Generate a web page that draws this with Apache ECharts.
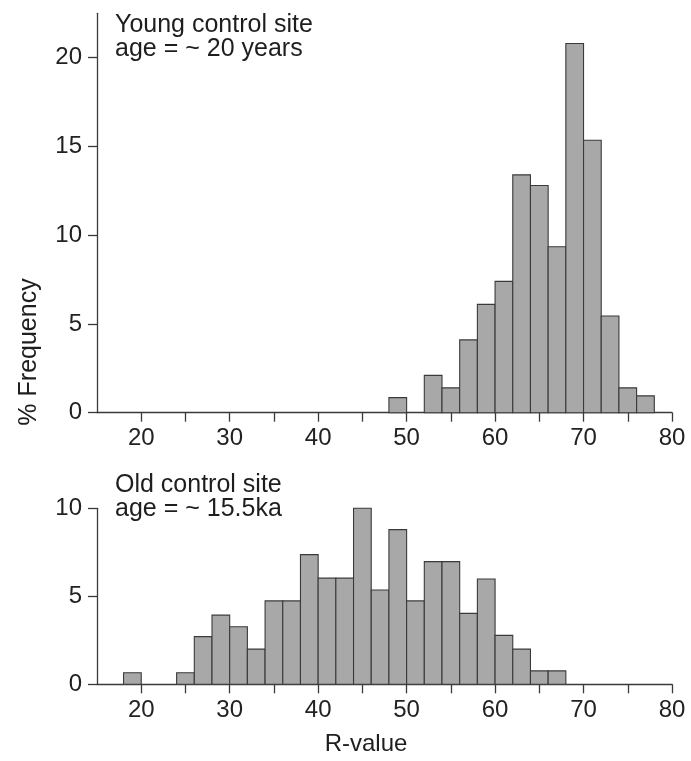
<!DOCTYPE html>
<html>
<head>
<meta charset="utf-8">
<script src="https://cdn.jsdelivr.net/npm/echarts@6/dist/echarts.min.js"></script>
<style>
html,body{margin:0;padding:0;background:#fff;}
#chart{width:691px;height:761px;}
</style>
</head>
<body>
<div id="chart"></div>
<script>
// ---- Data ----
var binWidth = 2;
// Young control site: bin lower edges (R-value) and % frequency
var youngBinStart = [48, 52, 54, 56, 58, 60, 62, 64, 66, 68, 70, 72, 74, 76];
var youngFreq     = [0.85, 2.1, 1.4, 4.1, 6.1, 7.4, 13.4, 12.8, 9.35, 20.8, 15.35, 5.45, 1.4, 0.95];
// Old control site
var oldBinStart = [18, 24, 26, 28, 30, 32, 34, 36, 38, 40, 42, 44, 46, 48, 50, 52, 54, 56, 58, 60, 62, 64, 66];
var oldFreq     = [0.66, 0.66, 2.71, 3.93, 3.27, 2.0, 4.74, 4.74, 7.37, 6.03, 6.03, 10.0, 5.36, 8.79, 4.74, 6.97, 6.97, 4.03, 5.98, 2.78, 2.0, 0.76, 0.76];

var xTickValues  = [20, 25, 30, 35, 40, 45, 50, 55, 60, 65, 70, 75, 80];
var xLabelValues = [20, 30, 40, 50, 60, 70, 80];
var youngYLabels = [0, 5, 10, 15, 20];
var oldYLabels   = [0, 5, 10];

var xTitle = 'R-value';
var yTitle = '% Frequency';
var youngNote = ['Young control site', 'age = ~ 20 years'];
var oldNote   = ['Old control site', 'age = ~ 15.5ka'];

// ---- Build ----
function toRows(starts, vals){
  return starts.map(function(s, i){ return [s, s + binWidth, vals[i]]; });
}
var FONT = '"Liberation Sans", Arial, Helvetica, sans-serif';
var AX = '#3a3a3a';

function xAxisCfg(idx){
  return {
    gridIndex: idx, type: 'value', min: 15, max: 80,
    axisLine: {show: true, lineStyle: {color: AX, width: 1.3}},
    axisTick: {show: true, length: 9, lineStyle: {color: AX, width: 1.3}, customValues: xTickValues},
    axisLabel: {show: true, margin: 14, fontSize: 24, fontFamily: FONT, color: '#222', customValues: xLabelValues},
    splitLine: {show: false}
  };
}
function yAxisCfg(idx, max, labels){
  return {
    gridIndex: idx, type: 'value', min: 0, max: max,
    axisLine: {show: true, lineStyle: {color: AX, width: 1.3}},
    axisTick: {show: true, length: 9, lineStyle: {color: AX, width: 1.3}, customValues: labels},
    axisLabel: {show: true, margin: 15, fontSize: 24, fontFamily: FONT, color: '#222', customValues: labels},
    splitLine: {show: false}
  };
}
function renderBar(params, api){
  var p0 = api.coord([api.value(0), 0]);
  var p1 = api.coord([api.value(1), api.value(2)]);
  return {
    type: 'rect',
    shape: {x: p0[0], y: p1[1], width: p1[0] - p0[0], height: p0[1] - p1[1]},
    style: {fill: '#a8a8a8', stroke: '#3a3a3a', lineWidth: 1.1}
  };
}
function txt(t, x, y, size){
  return {type: 'text', x: x, y: y, style: {text: t, font: size + 'px ' + FONT, fill: '#1e1e1e', verticalAlign: 'middle', align: 'left'}};
}

var chart = echarts.init(document.getElementById('chart'), null, {renderer: 'canvas'});
chart.setOption({
  animation: false,
  backgroundColor: '#fff',
  grid: [
    {left: 97, right: 19, top: 13.3, height: 399.4},
    {left: 97, right: 19, top: 508.3, height: 176}
  ],
  xAxis: [xAxisCfg(0), xAxisCfg(1)],
  yAxis: [yAxisCfg(0, 22.5, youngYLabels), yAxisCfg(1, 10, oldYLabels)],
  series: [
    {type: 'custom', xAxisIndex: 0, yAxisIndex: 0, data: toRows(youngBinStart, youngFreq), encode: {x: [0, 1], y: 2}, renderItem: renderBar},
    {type: 'custom', xAxisIndex: 1, yAxisIndex: 1, data: toRows(oldBinStart, oldFreq), encode: {x: [0, 1], y: 2}, renderItem: renderBar}
  ],
  graphic: [
    txt(youngNote[0], 115, 25, 25),
    txt(youngNote[1], 115, 49, 25),
    txt(oldNote[0], 115, 485, 25),
    txt(oldNote[1], 115, 509, 25),
    {type: 'text', x: 29, y: 352, rotation: Math.PI / 2,
     style: {text: yTitle, font: '25px ' + FONT, fill: '#1e1e1e', align: 'center', verticalAlign: 'middle'}},
    {type: 'text', x: 366, y: 744,
     style: {text: xTitle, font: '24px ' + FONT, fill: '#1e1e1e', align: 'center', verticalAlign: 'middle'}}
  ]
});
</script>
</body>
</html>
